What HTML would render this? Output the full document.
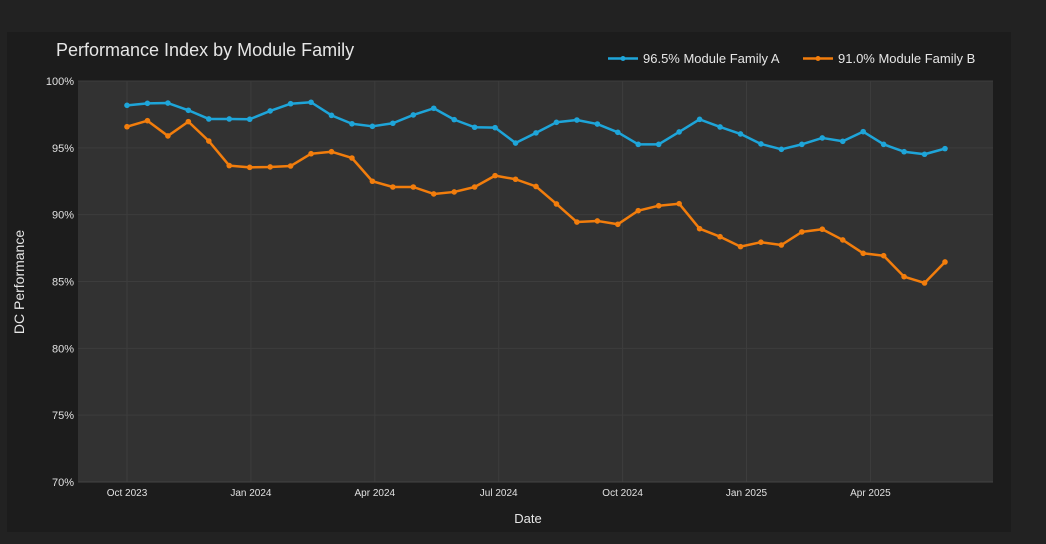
<!DOCTYPE html>
<html><head><meta charset="utf-8"><style>
body{margin:0;background:#222;width:1046px;height:544px;overflow:hidden;font-family:"Liberation Sans",sans-serif}
svg{display:block}
</style></head><body>
<svg id="c" width="1046" height="544">
<rect x="0" y="0" width="1046" height="544" fill="#222"/>
<rect x="7" y="32" width="1004" height="500" fill="#1c1c1c"/>
<rect x="78" y="81" width="915" height="401" fill="#323232"/>
<g id="grid"></g><g id="axes"></g><g id="series"></g>
<text x="56" y="56" fill="#e6e6e6" font-size="18">Performance Index by Module Family</text>
<text x="528" y="523" fill="#e6e6e6" font-size="13" text-anchor="middle">Date</text>
<text x="24" y="282" fill="#e6e6e6" font-size="14" text-anchor="middle" transform="rotate(-90 24 282)">DC Performance</text>
<g>
<line x1="608" y1="58.5" x2="638" y2="58.5" stroke="#1ea5d9" stroke-width="2.5"/><circle cx="623" cy="58.5" r="2.5" fill="#1ea5d9"/>
<text x="643" y="63" fill="#e6e6e6" font-size="13">96.5% Module Family A</text></g>
<g>
<line x1="803" y1="58.5" x2="833" y2="58.5" stroke="#f27d0c" stroke-width="2.5"/><circle cx="818" cy="58.5" r="2.5" fill="#f27d0c"/>
<text x="838" y="63" fill="#e6e6e6" font-size="13">91.0% Module Family B</text></g>
</svg>
<script>
const seriesA=[98.18,98.33,98.35,97.81,97.16,97.16,97.14,97.76,98.30,98.41,97.43,96.80,96.61,96.84,97.46,97.96,97.11,96.54,96.51,95.36,96.12,96.91,97.08,96.78,96.16,95.26,95.26,96.19,97.13,96.56,96.04,95.29,94.89,95.26,95.74,95.49,96.21,95.26,94.71,94.52,94.94];
const seriesB=[96.58,97.03,95.89,96.96,95.51,93.67,93.54,93.57,93.64,94.56,94.71,94.24,92.50,92.07,92.07,91.55,91.70,92.07,92.92,92.65,92.11,90.80,89.45,89.53,89.28,90.30,90.67,90.82,88.95,88.35,87.61,87.94,87.73,88.71,88.91,88.11,87.11,86.93,85.36,84.89,86.46];
const yTicks=[70,75,80,85,90,95,100];
const xTickLabels=["Oct 2023","Jan 2024","Apr 2024","Jul 2024","Oct 2024","Jan 2025","Apr 2025"];
const xTickMonths=[0,3,6,9,12,15,18];
const NS="http://www.w3.org/2000/svg";
const xs=m=>127+m*41.3;          // months since Oct 2023
const STEP_MONTHS=20.45/41.3;    // semi-monthly sample spacing in months
const ys=v=>482-(v-70)*(401/30);
function mk(t,a,p){const e=document.createElementNS(NS,t);for(const k in a)e.setAttribute(k,a[k]);p.appendChild(e);return e;}
const grid=document.getElementById('grid'),axes=document.getElementById('axes'),ser=document.getElementById('series');
yTicks.forEach(v=>{
 const l=mk('line',{x1:78,x2:993,y1:ys(v),y2:ys(v),stroke:'#3d3d3d','stroke-width':1},grid);
 
 
 const t=mk('text',{x:74,y:ys(v)+4,fill:'#e0e0e0','font-size':11,'text-anchor':'end'},axes);
 t.textContent=v+'%';
 
 
});
xTickMonths.forEach((m,i)=>{
 const l=mk('line',{x1:xs(m),x2:xs(m),y1:81,y2:482,stroke:'#3d3d3d','stroke-width':1},grid);
 
 
 const t=mk('text',{x:xs(m),y:496,fill:'#e0e0e0','font-size':10,'text-anchor':'middle'},axes);
 t.textContent=xTickLabels[i];
 
 
});
const ax=mk('line',{x1:78,x2:993,y1:482,y2:482,stroke:'#444','stroke-width':1},axes);


function draw(data,color,name){
 const pts=data.map((v,i)=>[xs(i*STEP_MONTHS),ys(v)]);
 const p=mk('polyline',{points:pts.map(p=>p.join(',')).join(' '),fill:'none',stroke:color,'stroke-width':2.5,'stroke-linejoin':'round'},ser);
 
 
 pts.forEach(q=>{const c=mk('circle',{cx:q[0],cy:q[1],r:2.8,fill:color},ser);
  
  });
}
draw(seriesA,'#1ea5d9','module-family-a');
draw(seriesB,'#f27d0c','module-family-b');
</script>
</body></html>
